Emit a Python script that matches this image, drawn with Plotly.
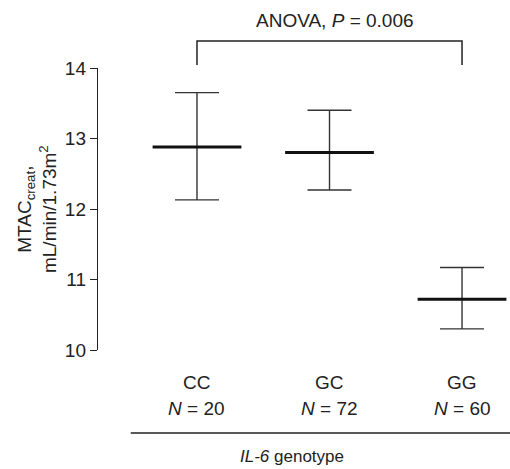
import plotly.graph_objects as go

categories = ["CC", "GC", "GG"]
n_labels = ["20", "72", "60"]
means = [12.88, 12.80, 10.72]
upper = [13.65, 13.40, 11.17]
lower = [12.13, 12.27, 10.30]
y_ticks = [10, 11, 12, 13, 14]
p_text = "ANOVA, <i>P</i> = 0.006"

xpos = list(range(len(categories)))
FONT = "Liberation Sans, Arial, sans-serif"
INK = "#222222"
FS = 19

fig = go.Figure()

# error bars (vertical whiskers with caps)
fig.add_trace(go.Scatter(
    x=xpos, y=means, mode="markers",
    marker=dict(size=1, color="rgba(0,0,0,0)"),
    error_y=dict(type="data", symmetric=False,
                 array=[u - m for u, m in zip(upper, means)],
                 arrayminus=[m - l for m, l in zip(means, lower)],
                 thickness=1.4, width=22, color="#333333"),
    showlegend=False, hoverinfo="skip"))

# mean lines
half = 0.335
mx, my = [], []
for x, m in zip(xpos, means):
    mx += [x - half, x + half, None]
    my += [m, m, None]
fig.add_trace(go.Scatter(x=mx, y=my, mode="lines",
                         line=dict(color="#111111", width=3),
                         showlegend=False, hoverinfo="skip", cliponaxis=False))

# category labels
for x, c, n in zip(xpos, categories, n_labels):
    fig.add_annotation(x=x, y=-0.117, xref="x", yref="paper", text=c,
                       showarrow=False, font=dict(family=FONT, size=FS, color=INK),
                       xanchor="center", yanchor="middle")
    fig.add_annotation(x=x, y=-0.209, xref="x", yref="paper",
                       text="<i>N</i> = " + n,
                       showarrow=False, font=dict(family=FONT, size=FS, color=INK),
                       xanchor="center", yanchor="middle")

# genotype line and label
fig.add_shape(type="line", xref="x", yref="paper", x0=-0.5, x1=2.37,
              y0=-0.294, y1=-0.294, line=dict(color=INK, width=1.5))
fig.add_annotation(x=0.72, y=-0.376, xref="x", yref="paper",
                   text="<i>IL-6</i> genotype", showarrow=False,
                   font=dict(family=FONT, size=17, color=INK),
                   xanchor="center", yanchor="middle")

# ANOVA bracket
x0b, x1b = xpos[0], xpos[-1]
fig.add_shape(type="path", xref="x", yref="paper",
              path=f"M {x0b},1.011 L {x0b},1.096 L {x1b},1.096 L {x1b},1.011",
              line=dict(color=INK, width=1.5))
fig.add_annotation(x=(x0b + x1b) / 2, xshift=5, y=1.17, xref="x", yref="paper",
                   text=p_text, showarrow=False,
                   font=dict(family=FONT, size=FS, color=INK),
                   xanchor="center", yanchor="middle")

# y-axis title
fig.add_annotation(x=-0.148, y=0.5, xref="paper", yref="paper",
                   text="MTAC<sub>creat</sub>,<br>mL/min/1.73m<sup>2</sup>",
                   textangle=-90, showarrow=False,
                   font=dict(family=FONT, size=FS, color=INK),
                   xanchor="center", yanchor="middle")

fig.update_layout(
    width=510, height=469,
    margin=dict(l=98, r=0, t=68, b=119),
    paper_bgcolor="white", plot_bgcolor="white",
    xaxis=dict(range=[-0.747, 2.362], visible=False),
    yaxis=dict(range=[10, 14], tickvals=y_ticks, ticks="outside", ticklen=7,
               tickwidth=1.4, tickcolor=INK, showline=True, linecolor=INK,
               linewidth=1.4, showgrid=False, zeroline=False,
               tickfont=dict(family=FONT, size=FS, color=INK)),
)

fig.write_html("out.html", config={"displayModeBar": False},
               post_script="document.body.style.margin='0px';document.body.style.overflow='hidden';")
